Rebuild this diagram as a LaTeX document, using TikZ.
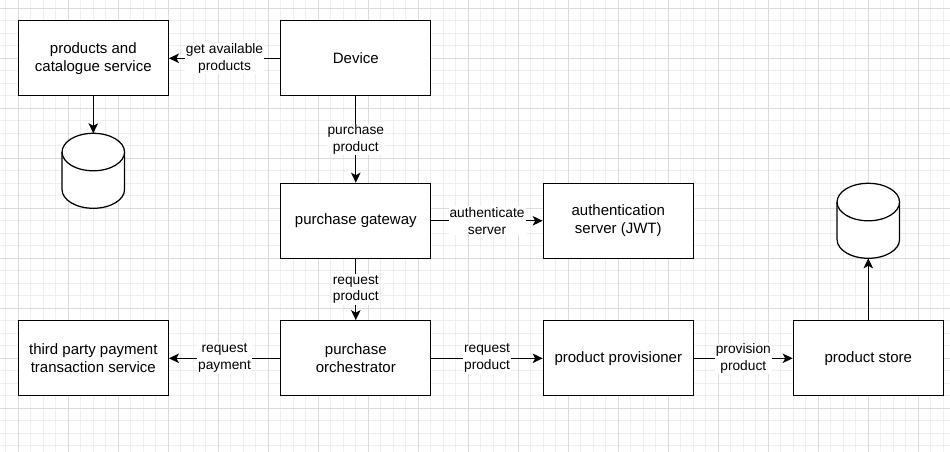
\documentclass[tikz,border=0pt]{standalone}
\usepackage{fontspec}
\setmainfont{Liberation Sans}
\usetikzlibrary{arrows.meta}
\definecolor{gridminor}{HTML}{EFEFEF}
\definecolor{gridmajor}{HTML}{DCDCDC}
\newcommand\dbcylinder[3]{% centre x, top y, bottom y (pixel coordinates)
  \fill[white] (#1-31.25,#2+18.75) rectangle (#1+31.25,#3-18.75);
  \fill[white] (#1,#3-18.75) ellipse[x radius=31.25pt,y radius=18.75pt];
  \draw[cyl] (#1-31.25,#2+18.75) -- (#1-31.25,#3-18.75)
     arc[start angle=180,end angle=360,x radius=31.25pt,y radius=18.75pt]
     -- (#1+31.25,#2+18.75);
  \draw[cyl,fill=white] (#1,#2+18.75) ellipse[x radius=31.25pt,y radius=18.75pt];
}
\begin{document}
\begin{tikzpicture}[x=1pt,y=-1pt,
  box/.style={draw=black,line width=1.25pt,fill=white,minimum width=150pt,minimum height=75pt,
    inner sep=0pt,align=center,font=\fontsize{15}{18.3}\selectfont},
  dbspot/.style={minimum width=62.5pt,minimum height=75pt,inner sep=0pt,outer sep=0pt},
  cyl/.style={line width=1.25pt,draw=black},
  lbl/.style={fill=white,inner sep=1pt,align=center,font=\fontsize{13.75}{16.7}\selectfont},
  arr/.style={line width=1.25pt,-{Stealth[length=10pt,width=9.5pt,inset=2.5pt]}},
]
\useasboundingbox (0,0) rectangle (950,452);
\fill[white] (0,0) rectangle (950,452);
% grid
\foreach \i in {0,...,76} \draw[gridminor,line width=1pt] (5.8+12.5*\i,0) -- (5.8+12.5*\i,452);
\foreach \i in {0,...,35} \draw[gridminor,line width=1pt] (0,8.3+12.5*\i) -- (950,8.3+12.5*\i);
\foreach \i in {0,...,18} \draw[gridmajor,line width=1pt] (18.3+50*\i,0) -- (18.3+50*\i,452);
\foreach \i in {0,...,8} \draw[gridmajor,line width=1pt] (0,8.3+50*\i) -- (950,8.3+50*\i);

% boxes
\node[box] (prod) at (93.3,58.3) {products and\\catalogue service};
\node[box] (dev) at (355.8,58.3) {Device};
\node[box] (gw) at (355.8,220.8) {purchase gateway};
\node[box] (auth) at (618.3,220.8) {authentication\\server (JWT)};
\node[box] (tp) at (93.3,358.3) {third party payment\\transaction service};
\node[box] (orch) at (355.8,358.3) {purchase\\orchestrator};
\node[box] (prov) at (618.3,358.3) {product provisioner};
\node[box] (store) at (868.3,358.3) {product store};

% databases
\node[dbspot] (db1) at (93.3,170.8) {};
\dbcylinder{93.3}{133.3}{208.3}
\node[dbspot] (db2) at (868.3,220.8) {};
\dbcylinder{868.3}{183.3}{258.3}

% connectors
\draw[arr] (dev) -- node[lbl]{get available\\products} (prod);
\draw[arr] (prod) -- (db1);
\draw[arr] (dev) -- node[lbl]{purchase\\product} (gw);
\draw[arr] (gw) -- node[lbl]{authenticate\\server} (auth);
\draw[arr] (gw) -- node[lbl]{request\\product} (orch);
\draw[arr] (orch) -- node[lbl]{request\\payment} (tp);
\draw[arr] (orch) -- node[lbl]{request\\product} (prov);
\draw[arr] (prov) -- node[lbl]{provision\\product} (store);
\draw[arr] (store) -- (db2);
\end{tikzpicture}
\end{document}
